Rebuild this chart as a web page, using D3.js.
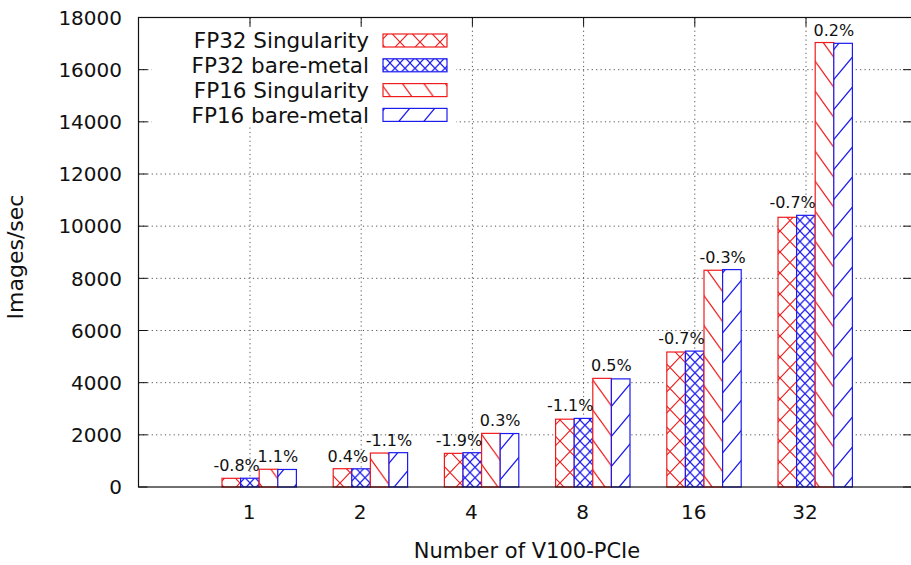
<!DOCTYPE html>
<html>
<head>
<meta charset="utf-8">
<script src="https://cdn.jsdelivr.net/npm/d3@7"></script>
<style>
  body { margin: 0; background: #fff; }
  text { font-family: "DejaVu Sans", sans-serif; fill: #111; }
</style>
</head>
<body>
<svg id="chart" width="911" height="565"></svg>
<script>
// data
var categories = ["1", "2", "4", "8", "16", "32"];
var fp32Sing = [333, 701, 1290, 2600, 5175, 10340];
var fp32Bare = [336, 698, 1315, 2630, 5210, 10415];
var fp16Sing = [680, 1302, 2056, 4165, 8310, 17040];
var fp16Bare = [672, 1316, 2050, 4145, 8335, 17010];
var fp32Pct = ["-0.8%", "0.4%", "-1.9%", "-1.1%", "-0.7%", "-0.7%"];
var fp16Pct = ["1.1%", "-1.1%", "0.3%", "0.5%", "-0.3%", "0.2%"];
var seriesNames = ["FP32 Singularity", "FP32 bare-metal", "FP16 Singularity", "FP16 bare-metal"];
var yTicks = [0, 2000, 4000, 6000, 8000, 10000, 12000, 14000, 16000, 18000];

var RED = "#f01c1c", BLUE = "#1c1cf0";
var svg = d3.select("#chart");

// plot box
var pLeft = 138.5, pRight = 912, pTop = 17.5, pBottom = 487;

var x = d3.scalePoint().domain(categories).range([250, 806]);
var y = d3.scaleLinear().domain([0, 18000]).range([pBottom, pTop]);

// fill patterns (screen anchored like gnuplot)
var defs = svg.append("defs");
function crossPattern(id, w, h, color) {
    var p = defs.append("pattern").attr("id", id)
        .attr("patternUnits", "userSpaceOnUse")
        .attr("width", w).attr("height", h);
    p.append("path")
        .attr("d", "M0,0L" + w + "," + h + "M" + w + ",0L0," + h)
        .attr("stroke", color).attr("stroke-width", 1.2).attr("fill", "none");
}
function linePattern(id, period, slope, dir, color) {
    // dir 1 = "\"  dir -1 = "/"
    var w = period / slope, h = period;
    var p = defs.append("pattern").attr("id", id)
        .attr("patternUnits", "userSpaceOnUse")
        .attr("width", w).attr("height", h);
    var d = "";
    [-w, 0, w].forEach(function (o) {
        if (dir > 0) d += "M" + (o - w) + "," + (-h) + "L" + (o + 2 * w) + "," + (2 * h);
        else d += "M" + (o - w) + "," + (2 * h) + "L" + (o + 2 * w) + "," + (-h);
    });
    p.append("path").attr("d", d)
        .attr("stroke", color).attr("stroke-width", 1.3).attr("fill", "none");
}
crossPattern("pRedX", 20, 21, RED);
crossPattern("pBlueX", 10, 10.5, BLUE);
linePattern("pRedBack", 30, 1.4, 1, RED);
linePattern("pBlueSlash", 30, 1.2, -1, BLUE);

var fills = ["url(#pRedX)", "url(#pBlueX)", "url(#pRedBack)", "url(#pBlueSlash)"];
var strokes = [RED, BLUE, RED, BLUE];
var allSeries = [fp32Sing, fp32Bare, fp16Sing, fp16Bare];

// grid
var grid = svg.append("g")
    .attr("stroke", "#555").attr("stroke-width", 1)
    .attr("stroke-dasharray", "1.2,3.2");
grid.selectAll(".gy").data(yTicks.slice(1, -1)).enter().append("line")
    .attr("x1", pLeft).attr("x2", pRight)
    .attr("y1", function (d) { return y(d); }).attr("y2", function (d) { return y(d); });
grid.selectAll(".gx").data(categories).enter().append("line")
    .attr("x1", function (d) { return x(d); }).attr("x2", function (d) { return x(d); })
    .attr("y1", pTop).attr("y2", pBottom);

// opaque legend box hides the grid
svg.append("rect")
    .attr("x", 152).attr("y", 27).attr("width", 304).attr("height", 99)
    .attr("fill", "#fff");

// ticks
var ticks = svg.append("g").attr("stroke", "#111").attr("stroke-width", 1);
yTicks.forEach(function (t) {
    ticks.append("line").attr("x1", pLeft).attr("x2", pLeft + 9).attr("y1", y(t)).attr("y2", y(t));
    ticks.append("line").attr("x1", pRight - 9).attr("x2", pRight).attr("y1", y(t)).attr("y2", y(t));
});
categories.forEach(function (c) {
    ticks.append("line").attr("x1", x(c)).attr("x2", x(c)).attr("y1", pTop).attr("y2", pTop + 9);
    ticks.append("line").attr("x1", x(c)).attr("x2", x(c)).attr("y1", pBottom).attr("y2", pBottom - 9);
});

// bars
var bw = 18.6, groupOffset = -28;
allSeries.forEach(function (vals, s) {
    var g = svg.append("g");
    var rows = categories.map(function (c, i) { return { c: c, v: vals[i] }; });
    g.selectAll("rect.bg").data(rows).enter().append("rect")
        .attr("x", function (d) { return x(d.c) + groupOffset + s * bw; })
        .attr("y", function (d) { return y(d.v); })
        .attr("width", bw)
        .attr("height", function (d) { return pBottom - y(d.v); })
        .attr("fill", "#fff");
    g.selectAll("rect.fg").data(rows).enter().append("rect")
        .attr("x", function (d) { return x(d.c) + groupOffset + s * bw; })
        .attr("y", function (d) { return y(d.v); })
        .attr("width", bw)
        .attr("height", function (d) { return pBottom - y(d.v); })
        .attr("fill", fills[s])
        .attr("stroke", strokes[s]).attr("stroke-width", 1.2);
});

// percentage labels
categories.forEach(function (c, i) {
    var x0 = x(c) + groupOffset;
    svg.append("text")
        .attr("x", x0 + bw - 4).attr("y", y(Math.max(fp32Sing[i], fp32Bare[i])) - 7)
        .attr("text-anchor", "middle").style("font-size", "16px")
        .text(fp32Pct[i]);
    svg.append("text")
        .attr("x", x0 + 3 * bw).attr("y", y(Math.max(fp16Sing[i], fp16Bare[i])) - 7)
        .attr("text-anchor", "middle").style("font-size", "16px")
        .text(fp16Pct[i]);
});

// border
svg.append("rect")
    .attr("x", pLeft).attr("y", pTop)
    .attr("width", pRight - pLeft).attr("height", pBottom - pTop)
    .attr("fill", "none").attr("stroke", "#111").attr("stroke-width", 1.2);

// tick labels
svg.selectAll(".ylab").data(yTicks).enter().append("text")
    .attr("x", 122).attr("y", function (d) { return y(d); })
    .attr("dy", "0.36em").attr("text-anchor", "end")
    .style("font-size", "20px")
    .text(function (d) { return d; });
svg.selectAll(".xlab").data(categories).enter().append("text")
    .attr("x", function (d) { return x(d) - 1; }).attr("y", 519)
    .attr("text-anchor", "middle")
    .style("font-size", "20px")
    .text(function (d) { return d; });

// axis titles
svg.append("text")
    .attr("x", 527).attr("y", 558)
    .attr("text-anchor", "middle").style("font-size", "21px")
    .text("Number of V100-PCIe");
svg.append("text")
    .attr("transform", "translate(23,257) rotate(-90)")
    .attr("text-anchor", "middle").style("font-size", "22px")
    .text("Images/sec");

// legend
var legend = svg.append("g");
seriesNames.forEach(function (name, s) {
    var cy = 40.5 + s * 24.8;
    legend.append("text")
        .attr("x", 369).attr("y", cy).attr("dy", "0.36em")
        .attr("text-anchor", "end").style("font-size", "21.5px")
        .text(name);
    legend.append("rect")
        .attr("x", 383).attr("y", cy - 6.5)
        .attr("width", 64).attr("height", 13)
        .attr("fill", "#fff");
    legend.append("rect")
        .attr("x", 383).attr("y", cy - 6.5)
        .attr("width", 64).attr("height", 13)
        .attr("fill", fills[s])
        .attr("stroke", strokes[s]).attr("stroke-width", 1.2);
});
</script>
</body>
</html>
